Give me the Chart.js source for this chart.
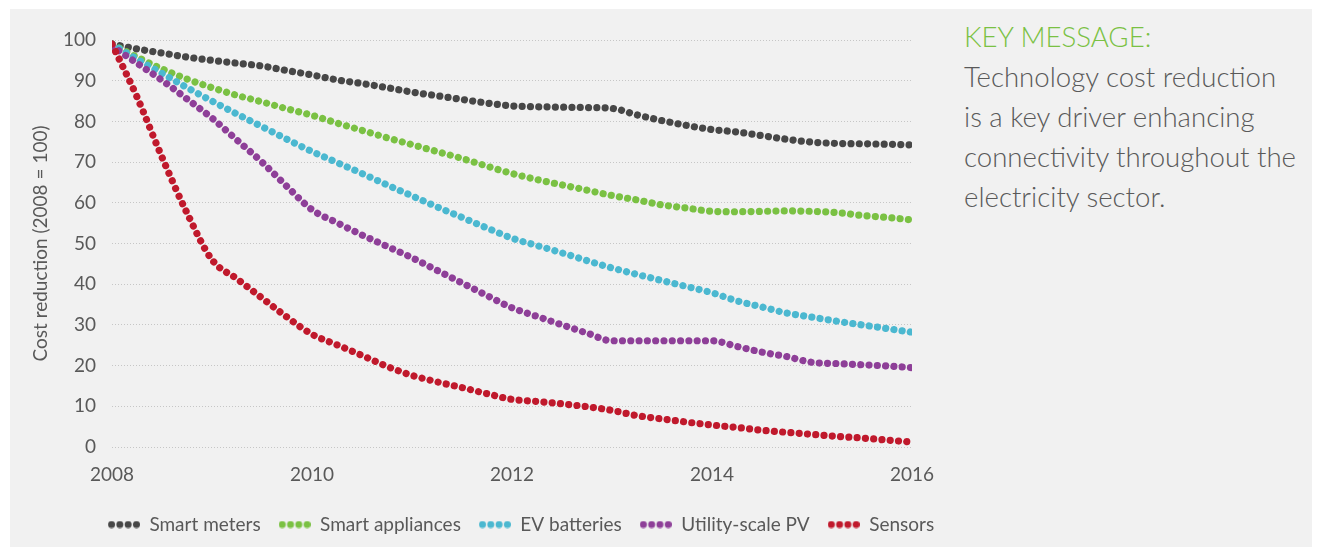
<!DOCTYPE html>
<html>
<head>
<meta charset="utf-8">
<script src="https://cdn.jsdelivr.net/npm/chart.js@4.4.1/dist/chart.umd.min.js"></script>
<style>
  html, body { margin: 0; padding: 0; background: #ffffff; }
  body { width: 1320px; height: 547px; position: relative; overflow: hidden; font-family: Lato, "Open Sans", sans-serif; }
  #panel { position: absolute; left: 10px; top: 9px; width: 1302px; height: 538px; background: #f1f1f1; }
  #wrap { position: absolute; left: 0; top: 0; width: 940px; height: 547px; }
  #msg { position: absolute; left: 964px; top: 17px; width: 350px; font-weight: 300; font-size: 27.6px; line-height: 40px; color: #595959; }
  #msg .head { color: #7ac143; }
</style>
</head>
<body>
<div id="panel"></div>
<div id="wrap"><canvas id="chart" width="940" height="547"></canvas></div>
<div id="msg"><div class="head">KEY MESSAGE:</div>Technology cost reduction<br>is a key driver enhancing<br>connectivity throughout the<br>electricity sector.</div>
<script>
// Quarterly time points, 2008–2016
const years = [2008, 2008.25, 2008.5, 2008.75, 2009, 2009.25, 2009.5, 2009.75,
               2010, 2010.25, 2010.5, 2010.75, 2011, 2011.25, 2011.5, 2011.75,
               2012, 2012.25, 2012.5, 2012.75, 2013, 2013.25, 2013.5, 2013.75,
               2014, 2014.25, 2014.5, 2014.75, 2015, 2015.25, 2015.5, 2015.75, 2016];

// Cost index per technology (2008 = 100)
const smartMeters = [99, 97.8, 96.8, 95.8, 95, 94.3, 93.6, 92.5,
                     91.4, 90.2, 89.3, 88.3, 87.2, 86.3, 85.4, 84.5,
                     83.8, 83.6, 83.5, 83.4, 83.2, 81.6, 80.2, 79.0,
                     78.0, 77.4, 76.5, 75.6, 74.9, 74.6, 74.5, 74.4, 74.2];
const smartAppliances = [99, 95.8, 92.9, 90.4, 88.3, 86.4, 84.8, 83.1,
                         81.5, 79.6, 77.8, 76.0, 74.3, 72.6, 70.9, 69.0,
                         67.2, 65.7, 64.4, 63.1, 61.8, 60.7, 59.5, 58.7,
                         57.9, 57.8, 57.9, 58.0, 57.9, 57.6, 56.9, 56.4, 55.8];
const evBatteries = [99, 95.3, 91.8, 88.3, 85.0, 81.8, 78.7, 75.6,
                     72.6, 69.9, 67.2, 64.4, 61.7, 59.0, 56.4, 53.8,
                     51.3, 49.5, 47.7, 45.8, 44.0, 42.4, 40.9, 39.4,
                     37.9, 35.9, 34.4, 32.9, 31.9, 30.9, 30.0, 29.1, 28.2];
const utilityPV = [98.5, 94.3, 90.1, 85.5, 80.8, 75.4, 70.0, 64.0,
                   58.3, 55.1, 52.1, 49.3, 46.5, 43.4, 40.3, 37.2,
                   34.2, 32.1, 30.0, 28.0, 26.1, 26.1, 26.1, 26.1,
                   26.1, 24.7, 23.3, 22.2, 20.8, 20.5, 20.2, 19.9, 19.5];
const sensors = [99, 86.0, 71.2, 57.5, 46.0, 41.3, 36.6, 31.9,
                 27.7, 25.1, 22.5, 19.8, 17.6, 16.0, 14.6, 13.1,
                 11.7, 11.2, 10.6, 9.9, 9.0, 7.7, 6.9, 6.1,
                 5.4, 4.8, 4.1, 3.6, 3.1, 2.6, 2.2, 1.7, 1.2];

const seriesNames = ['Smart meters', 'Smart appliances', 'EV batteries', 'Utility-scale PV', 'Sensors'];
const seriesValues = [smartMeters, smartAppliances, evBatteries, utilityPV, sensors];
const seriesColors = ['#474747', '#7ac143', '#4bb8d0', '#8e3f98', '#c0192c'];
const xTicks = [2008, 2010, 2012, 2014, 2016];

const FONT = 'Lato, "Open Sans", sans-serif';
const TEXT = '#595959';
const LEGEND_CENTER = 521;

// Small four-dot swatch used as the legend marker
function dotSwatch(color) {
  const c = document.createElement('canvas');
  c.width = 32; c.height = 8;
  const g = c.getContext('2d');
  g.fillStyle = color;
  for (let i = 0; i < 4; i++) {
    g.beginPath();
    g.arc(3.6 + i * 8.3, 4, 3.5, 0, Math.PI * 2);
    g.fill();
  }
  return c;
}

const datasets = seriesNames.map((name, i) => ({
  label: name,
  data: years.map((yr, k) => ({ x: yr, y: seriesValues[i][k] })),
  borderColor: seriesColors[i],
  backgroundColor: seriesColors[i],
  borderWidth: 7.2,
  borderDash: [0.001, 8.3],
  borderCapStyle: 'round',
  borderJoinStyle: 'round',
  cubicInterpolationMode: 'monotone',
  pointRadius: 0,
  pointHoverRadius: 0,
  pointStyle: dotSwatch(seriesColors[i]),
  fill: false,
  order: seriesNames.length - i
}));

new Chart(document.getElementById('chart'), {
  type: 'line',
  data: { datasets },
  options: {
    responsive: false,
    animation: false,
    events: [],
    layout: { padding: { top: 40, right: 28, left: 0, bottom: 3 } },
    plugins: {
      tooltip: { enabled: false },
      legend: {
        position: 'bottom',
        labels: {
          usePointStyle: true,
          pointStyleWidth: 32,
          boxHeight: 8,
          padding: 18,
          color: TEXT,
          font: { family: FONT, size: 19 },
          sort: (a, b) => a.datasetIndex - b.datasetIndex
        }
      }
    },
    scales: {
      x: {
        type: 'linear',
        min: 2008,
        max: 2016,
        afterBuildTicks: (scale) => { scale.ticks = xTicks.map(v => ({ value: v })); },
        afterFit: (scale) => {
          scale.height = 50;
          scale.paddingLeft = 0;
          scale.paddingRight = 0;
        },
        grid: { display: false, drawTicks: false },
        border: { display: false },
        ticks: {
          padding: 16,
          color: TEXT,
          font: { family: FONT, size: 19 },
          maxRotation: 0,
          callback: (v) => String(v)
        }
      },
      y: {
        min: 0,
        max: 100,
        afterFit: (scale) => { scale.width = 112; },
        ticks: {
          stepSize: 10,
          padding: 16,
          color: TEXT,
          font: { family: FONT, size: 19 }
        },
        grid: {
          drawTicks: false,
          color: '#c6c6c6',
          lineWidth: 1
        },
        border: { display: false, dash: [1, 2] },
        title: {
          display: true,
          text: 'Cost reduction (2008 = 100)',
          color: TEXT,
          font: { family: FONT, size: 19 },
          padding: { top: 29, bottom: 0 }
        }
      }
    }
  },
  plugins: [{
    // centre the legend row under the full chart block
    id: 'legendShift',
    afterLayout(chart) {
      const lg = chart.legend;
      if (!lg) return;
      const d = LEGEND_CENTER - (lg.left + lg.right) / 2;
      lg.left += d;
      lg.right += d;
    }
  }]
});
</script>
</body>
</html>
